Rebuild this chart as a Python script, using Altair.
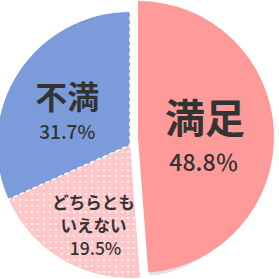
import math
import altair as alt
import pandas as pd

keys = ["satisfied", "neutral", "dissatisfied"]
categories = ["満足", "どちらとも\nいえない", "不満"]
values = [48.8, 19.5, 31.7]
pct_labels = ["48.8％", "19.5%", "31.7%"]
colors = ["#FF9A9A", "#FFC6C8", "#7C9BDA"]

df = pd.DataFrame({"key": keys, "cat": categories, "value": values,
                   "pct": pct_labels, "order": list(range(len(keys)))})

FONT = "Noto Sans CJK JP"
TXT = "#333333"
CX, CY, R = 130, 145, 133          # main pie centre / radius
EX, EY, ER = 138, 137, 136         # exploded slice centre / radius

theta = alt.Theta("value:Q", stack=True)
order = alt.Order("order:Q")
base = alt.Chart(df)

def show(k):
    return alt.datum.key == k

shadow = base.mark_arc(radius=ER, color="#7a7a7a").encode(
    theta=theta, order=order, x=alt.value(EX + 2), y=alt.value(EY + 3),
    opacity=alt.condition(show("satisfied"), alt.value(0.22), alt.value(0)))

main = base.mark_arc(radius=R).encode(
    theta=theta, order=order, x=alt.value(CX), y=alt.value(CY),
    color=alt.Color("key:N", scale=alt.Scale(domain=keys, range=colors), legend=None),
    opacity=alt.condition(show("satisfied"), alt.value(0), alt.value(1)))

# dotted texture for the "neutral" slice (angles derived from the data)
total = sum(values)
i_n = keys.index("neutral")
a0 = sum(values[:i_n]) / total * 2 * math.pi
a1 = sum(values[:i_n + 1]) / total * 2 * math.pi
STEP, NCOL = 6, 48
dots = alt.Chart(alt.sequence(0, NCOL * NCOL, 1, as_="i")).transform_calculate(
    gx=f"(datum.i % {NCOL}) * {STEP} + 2",
    gy=f"floor(datum.i / {NCOL}) * {STEP} + 2",
).transform_calculate(
    rr=f"sqrt(pow(datum.gx - {CX}, 2) + pow(datum.gy - {CY}, 2))",
    ang=f"(atan2(datum.gx - {CX}, {CY} - datum.gy) + 2*PI) % (2*PI)",
).transform_filter(
    f"datum.rr < {R - 2} && datum.rr > 4 && datum.ang > {a0 + 0.02} && datum.ang < {a1 - 0.02}"
).mark_square(size=4, color="white", opacity=0.75).encode(
    x=alt.X("gx:Q", scale=None, axis=None),
    y=alt.Y("gy:Q", scale=None, axis=None))

dashed = base.mark_arc(radius=R + 8, fillOpacity=0, stroke="white", strokeWidth=1.6,
                       strokeDash=[4, 3]).encode(
    theta=theta, order=order, x=alt.value(CX), y=alt.value(CY),
    strokeOpacity=alt.condition(show("dissatisfied"), alt.value(1), alt.value(0)))

ring = alt.Chart(pd.DataFrame({"a": [0]})).mark_arc(
    innerRadius=R + 0.5, radius=R + 20, theta=0, theta2=6.2832, color="white").encode(
    x=alt.value(CX), y=alt.value(CY))

exploded = base.mark_arc(radius=ER).encode(
    theta=theta, order=order, x=alt.value(EX), y=alt.value(EY),
    color=alt.Color("key:N", scale=alt.Scale(domain=keys, range=colors), legend=None),
    opacity=alt.condition(show("satisfied"), alt.value(1), alt.value(0)))

def label(k, expr, cx, cy, radius, dx, dy, size, weight):
    return base.transform_calculate(
        lbl=f"datum.key == '{k}' ? {expr} : ''"
    ).mark_text(radius=radius, dx=dx, dy=dy, fontSize=size, fontWeight=weight,
                font=FONT, color=TXT, align="center", baseline="middle").encode(
        theta=theta, order=order, x=alt.value(cx), y=alt.value(cy),
        text="lbl:N")

line1 = "split(datum.cat, '\\n')[0]"
line2 = "split(datum.cat, '\\n')[1]"

labels = [
    label("satisfied", "datum.cat", EX, EY, 67, 0, -13, 40, "bold"),
    label("satisfied", "datum.pct", EX, EY, 67, -1, 30, 23, 500),
    label("dissatisfied", "datum.cat", CX, CY, 70, -4, -8, 32, "bold"),
    label("dissatisfied", "datum.pct", CX, CY, 70, -4, 26, 19, 500),
    label("neutral", line1, CX, CY, 85, 7, -14, 16.5, "bold"),
    label("neutral", line2, CX, CY, 85, 7, 9, 16.5, "bold"),
    label("neutral", "datum.pct", CX, CY, 85, 9, 32, 17.5, 500),
]

chart = alt.layer(shadow, main, dots, dashed, ring, exploded, *labels).properties(
    width=279, height=279, padding=0, autosize="none"
).configure_view(stroke=None)

chart.save("out.html", embed_options={"renderer": "svg", "actions": False})
